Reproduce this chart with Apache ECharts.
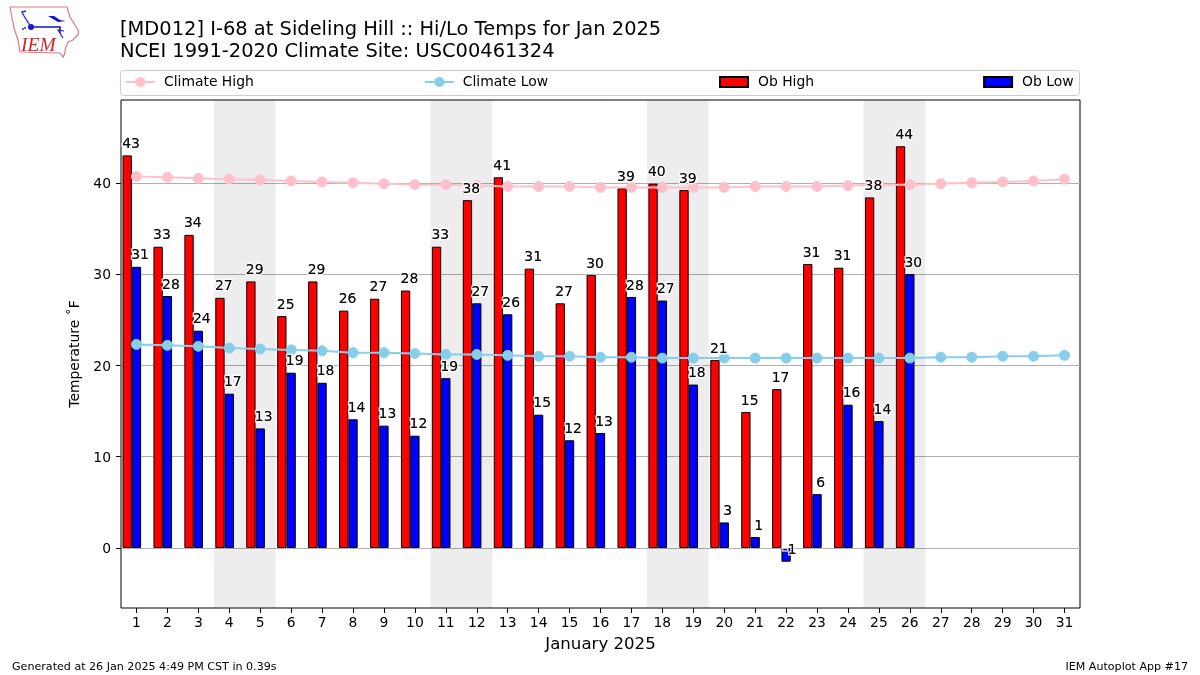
<!DOCTYPE html>
<html><head><meta charset="utf-8">
<style>html,body{margin:0;padding:0;background:#fff}#c{width:1200px;height:675px}</style>
<script src="https://cdn.jsdelivr.net/npm/echarts@6/dist/echarts.min.js"></script>
</head><body><div id="c"></div>
<script>
const days = ['1','2','3','4','5','6','7','8','9','10','11','12','13','14','15','16','17','18','19','20','21','22','23','24','25','26','27','28','29','30','31'];
const obHigh = [43.0,33.0,34.3,27.4,29.2,25.4,29.2,26.0,27.3,28.2,33.0,38.1,40.6,30.6,26.8,29.9,39.4,39.9,39.2,20.6,14.9,17.4,31.1,30.7,38.4,44.0];
const obLow = [30.8,27.6,23.8,16.9,13.1,19.2,18.1,14.1,13.4,12.3,18.6,26.8,25.6,14.6,11.8,12.6,27.5,27.1,17.9,2.8,1.2,-1.5,5.9,15.7,13.9,30.0];
const climateHigh = [40.7,40.6,40.5,40.4,40.3,40.2,40.1,40.0,39.9,39.8,39.8,39.7,39.6,39.6,39.6,39.5,39.5,39.5,39.5,39.5,39.6,39.6,39.6,39.7,39.8,39.8,39.9,40.0,40.1,40.2,40.4];
const climateLow = [22.3,22.2,22.1,21.9,21.8,21.7,21.6,21.4,21.4,21.3,21.2,21.2,21.1,21.0,21.0,20.9,20.9,20.8,20.8,20.8,20.8,20.8,20.8,20.8,20.8,20.8,20.9,20.9,21.0,21.0,21.1];
const weekends = [[3.5,5.5],[10.5,12.5],[17.5,19.5],[24.5,26.5]];
const yTicks = [0,10,20,30,40];

const FONT = '"DejaVu Sans"';
function barSeries(name,arr,color){
  return {name,type:'bar',data:arr,barWidth:9.3,barGap:0,z:3,
    itemStyle:{color,borderColor:'#000',borderWidth:1,borderRadius:0}};
}
function labelSeries(name,arr,dx,halo){
  return {name,type:'scatter',data:arr,symbolSize:0,z:halo?6:7,silent:true,
    label:{show:true,position:'top',distance:5,offset:[dx,1],
      formatter:p=>String(Math.round(p.value)),
      color:'#000',fontFamily:FONT,fontSize:13.9,
      textBorderColor:halo?'#fff':'transparent',textBorderWidth:halo?3:0}};
}
function lineSeries(name,arr,color){
  return {name,type:'line',data:arr,symbol:'circle',symbolSize:10,z:4,
    lineStyle:{color,width:2},itemStyle:{color,borderColor:color},showSymbol:true};
}
const chart = echarts.init(document.getElementById('c'),null,{renderer:'canvas'});
chart.setOption({
  animation:false,
  backgroundColor:'#fff',
  title:[
    {text:'[MD012] I-68 at Sideling Hill :: Hi/Lo Temps for Jan 2025\nNCEI 1991-2020 Climate Site: USC00461324',left:120,top:19,padding:0,
     textStyle:{fontFamily:FONT,fontSize:19.44,fontWeight:'normal',color:'#000',lineHeight:22}},
    {text:'Generated at 26 Jan 2025 4:49 PM CST in 0.39s',left:12,top:662,padding:0,
     textStyle:{fontFamily:FONT,fontSize:11.1,fontWeight:'normal',color:'#000'}},
    {text:'IEM Autoplot App #17',right:12,top:662,padding:0,
     textStyle:{fontFamily:FONT,fontSize:11.1,fontWeight:'normal',color:'#000'}}
  ],
  legend:[
    {data:['Climate High','Climate Low'],left:125,top:75,padding:0,itemWidth:29,itemHeight:12.5,itemGap:170,
     textStyle:{fontFamily:FONT,fontSize:13.9,color:'#000',padding:[0,0,0,4]}},
    {data:[{name:'Ob High',icon:'rect'},{name:'Ob Low',icon:'rect'}],left:719,top:75,padding:0,itemWidth:28,itemHeight:10,itemGap:169,
     textStyle:{fontFamily:FONT,fontSize:13.9,color:'#000',padding:[0,0,0,5]}}
  ],
  grid:{left:121,right:120,top:100,bottom:67,show:true,borderColor:'#000',borderWidth:1,backgroundColor:'transparent'},
  xAxis:[{
    type:'category',data:days,boundaryGap:true,
    name:'January 2025',nameLocation:'middle',nameGap:28,
    nameTextStyle:{fontFamily:FONT,fontSize:16.6,color:'#000'},
    axisLine:{show:false,onZero:false},
    axisTick:{show:true,alignWithLabel:true,length:5,lineStyle:{color:'#000'}},
    axisLabel:{interval:0,fontFamily:FONT,fontSize:13.9,color:'#000',margin:8},
    splitLine:{show:false}
  },{
    type:'value',min:0.5,max:31.5,show:false
  }],
  yAxis:{
    type:'value',min:-6.57,max:49.07,
    name:'Temperature ˚F',nameLocation:'middle',nameGap:37,
    nameTextStyle:{fontFamily:FONT,fontSize:13.9,color:'#000'},
    axisLine:{show:false},
    axisTick:{show:true,length:5,lineStyle:{color:'#000'},customValues:yTicks},
    axisLabel:{margin:10,customValues:yTicks,formatter:'{t|{value}}',
      rich:{t:{fontFamily:FONT,fontSize:13.9,color:'#000',padding:[3,0,0,0]}}},
    splitLine:{show:true,lineStyle:{color:'#b0b0b0',width:1}}
  },
  series:[
    {name:'shade',type:'line',data:[],xAxisIndex:1,z:1,silent:true,
     markArea:{silent:true,itemStyle:{color:'rgba(0,0,0,0.07)'},
       data:weekends.map(w=>[{xAxis:w[0]},{xAxis:w[1]}])}},
    barSeries('Ob High',obHigh,'#ff0000'),
    barSeries('Ob Low',obLow,'#0000ff'),
    {name:'spacer',type:'bar',data:[],barWidth:9.3,barGap:0},
    lineSeries('Climate High',climateHigh,'#ffc0cb'),
    lineSeries('Climate Low',climateLow,'#87ceeb'),
    labelSeries('High halo',obHigh,-5.5,true),
    labelSeries('Low halo',obLow,3.5,true),
    labelSeries('High labels',obHigh,-5.5,false),
    labelSeries('Low labels',obLow,3.5,false)
  ],
  graphic:[
    {type:'rect',z:-1,shape:{x:120.5,y:70.5,width:959,height:25,r:3},style:{fill:'#fff',stroke:'#cccccc',lineWidth:1}},
    {type:'polyline',shape:{points:[[10,7],[67,7],[70,17],[78,30],[78.5,34],[73,40],[68,42],[65,50],[65,53],[63,57],[60,53],[20,52],[18,40],[14,28],[10,7]]},style:{fill:'none',stroke:'#e0787e',lineWidth:1.2}},
    {type:'text',style:{x:21,y:36,text:'IEM',fill:'#d8232a',fontFamily:'"Liberation Serif"',fontStyle:'italic',fontSize:19.5}},
    {type:'polyline',shape:{points:[[31,27],[60,27],[60,33]]},style:{fill:'none',stroke:'#1010d8',lineWidth:1.6}},
    {type:'circle',shape:{cx:31,cy:27,r:3},style:{fill:'#1010d8'}},
    {type:'polyline',shape:{points:[[31,27],[24,16],[22,12],[26,11]]},style:{fill:'none',stroke:'#2a2ad8',lineWidth:1.3}},
    {type:'polygon',shape:{points:[[48,16],[54,16],[60,20],[66,21],[58,22]]},style:{fill:'#1010d8'}},
    {type:'polyline',shape:{points:[[60,33],[63,38],[58,30],[64,31]]},style:{fill:'none',stroke:'#2a2ad8',lineWidth:1.2}},
    {type:'circle',shape:{cx:25,cy:28,r:1},style:{fill:'#2a2ad8'}},
    {type:'circle',shape:{cx:23,cy:29,r:1},style:{fill:'#2a2ad8'}}
  ]
});
</script></body></html>
